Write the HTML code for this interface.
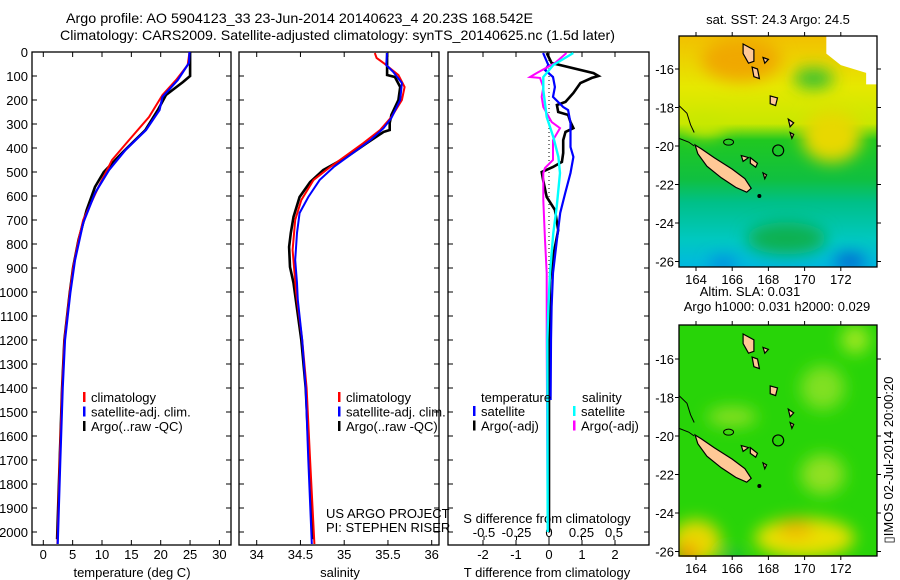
<!DOCTYPE html>
<html><head><meta charset="utf-8"><style>
html,body{margin:0;padding:0;background:#fff;}
svg{display:block;font-family:"Liberation Sans",sans-serif;}
</style></head><body>
<svg id="fig" width="900" height="580" viewBox="0 0 900 580" xmlns="http://www.w3.org/2000/svg">
<defs>
<filter id="blur8" x="-50%" y="-50%" width="200%" height="200%"><feGaussianBlur stdDeviation="8"/></filter>
<filter id="blur5" x="-50%" y="-50%" width="200%" height="200%"><feGaussianBlur stdDeviation="5"/></filter>
<clipPath id="clipMap1"><rect x="679" y="36" width="198" height="231"/></clipPath>
<clipPath id="clipMap2"><rect x="679" y="325" width="198" height="232"/></clipPath>
<linearGradient id="g1" x1="0" y1="0" x2="0" y2="1">
<stop offset="0" stop-color="#f2c000"/><stop offset="0.22" stop-color="#e6e800"/><stop offset="0.38" stop-color="#c8e800"/>
<stop offset="0.45" stop-color="#20c820"/><stop offset="0.62" stop-color="#10c040"/><stop offset="0.72" stop-color="#00c088"/>
<stop offset="0.88" stop-color="#00c8c0"/><stop offset="1" stop-color="#00b8e0"/></linearGradient>
</defs>
<g id="titles" font-size="14">
<text x="66" y="23" textLength="467" lengthAdjust="spacingAndGlyphs">Argo profile: AO 5904123_33 23-Jun-2014 20140623_4 20.23S 168.542E</text>
<text x="60" y="40" textLength="555" lengthAdjust="spacingAndGlyphs">Climatology: CARS2009. Satellite-adjusted climatology: synTS_20140625.nc (1.5d later)</text>
</g>
<g id="p1"></g><g id="p2"></g><g id="p3"></g>
<g id="map1"></g>
<g id="map2"></g>
<text transform="translate(893,460) rotate(-90)" font-size="13" text-anchor="middle">▯IMOS 02-Jul-2014 20:00:20</text>
</svg>
<script>
// ---------- data ----------
const tDepthRed=[0,54,117,179,271,367,450,562,700,783,896,1004,1200,1400,1700,2050];
const tRed=[24.9,24.6,22.6,20.3,18.0,14.6,11.7,9.4,6.8,6.0,5.1,4.5,3.6,3.2,2.8,2.4];
const tDepthBlue=[0,46,117,187,242,325,408,492,588,712,867,1004,1200,1400,1700,2050];
const tBlue=[24.9,24.8,22.9,20.3,19.8,17.5,14.0,11.2,8.8,6.8,5.4,4.6,3.7,3.3,2.9,2.45];
const tDepthArgo=[0,100,125,179,242,325,421,500,562,658,783,896,1004,1200,1400,1700,2030];
const tArgo=[25.0,25.0,23.8,20.9,19.5,17.4,13.4,10.3,8.8,7.4,6.0,5.1,4.5,3.6,3.2,2.8,2.35];
const sDepthRed=[4,25,46,96,146,200,271,325,379,429,479,533,617,700,825,1000,1200,1400,1700,2050];
const sRed=[35.35,35.37,35.45,35.62,35.69,35.66,35.54,35.41,35.22,35.03,34.84,34.65,34.51,34.44,34.41,34.45,34.52,34.57,34.61,34.66];
const sDepthBlue=[4,54,83,129,200,275,317,367,421,479,533,604,671,754,867,962,1033,1200,1400,1700,2050];
const sBlue=[35.49,35.48,35.56,35.66,35.64,35.54,35.45,35.30,35.10,34.88,34.72,34.59,34.49,34.46,34.44,34.46,34.47,34.52,34.56,34.59,34.63];
const sDepthArgo=[4,96,104,146,200,262,296,325,333,379,437,492,542,604,687,754,812,896,962,1200,1400,1700,2030];
const sArgo=[35.49,35.49,35.58,35.64,35.62,35.54,35.52,35.52,35.45,35.26,35.03,34.76,34.61,34.49,34.42,34.39,34.37,34.38,34.42,34.51,34.56,34.6,34.64];
const dtDepthArgo=[4,46,88,100,108,129,171,208,221,250,262,292,317,333,367,421,458,479,500,533,604,658,742,854,950,1200,2000];
const dtArgo=[-0.07,0.08,1.35,1.5,1.3,0.95,0.74,0.5,0.24,0.28,0.58,0.65,0.74,0.5,0.43,0.43,0.39,0.12,-0.22,-0.18,-0.07,0.18,0.28,0.12,0.03,0.0,0.0];
const dtDepthSat=[4,54,75,104,146,187,229,242,296,396,437,504,588,671,783,921,1062,1200,1450];
const dtSat=[-0.18,-0.02,-0.12,0.12,0.18,0.12,0.43,0.58,0.65,0.65,0.74,0.65,0.49,0.34,0.24,0.12,0.08,0.06,0.05];
const dsDepthArgo=[4,46,88,104,108,146,187,229,292,317,367,450,483,504,617,783,921,1062,1200,2000];
const dsArgo=[0.135,0.046,-0.095,-0.146,-0.069,-0.044,-0.056,-0.044,0.021,0.085,0.031,0.031,-0.031,-0.044,-0.044,-0.031,-0.018,-0.018,-0.018,-0.01];
const dsDepthSat=[4,54,104,158,271,354,437,504,646,754,921,1062,1200,2000];
const dsSat=[0.187,0.033,-0.044,-0.044,-0.018,0.033,0.072,0.085,0.059,0.033,0.008,-0.005,-0.013,-0.01];
const depthTicks=[0,100,200,300,400,500,600,700,800,900,1000,1100,1200,1300,1400,1500,1600,1700,1800,1900,2000];
const tTicks=[0,5,10,15,20,25,30];
const sTicks=[34,34.5,35,35.5,36];
const dtTicks=[-2,-1,0,1,2];
const dsTicks=[-0.5,-0.25,0,0.25,0.5];
const lonTicks=[164,166,168,170,172];
const latTicks=[-16,-18,-20,-22,-24,-26];

// ---------- helpers ----------
const NS='http://www.w3.org/2000/svg';
function mk(parent,tag,attrs,text){const e=document.createElementNS(NS,tag);for(const k in attrs)e.setAttribute(k,attrs[k]);if(text!==undefined)e.textContent=text;parent.appendChild(e);return e;}
const TOP=52,BOT=545;
const yD=d=>TOP+d*0.24;
function frame(g,x0,x1){
  const r=mk(g,'rect',{x:x0,y:TOP,width:x1-x0,height:BOT-TOP,fill:'none',stroke:'#000','stroke-width':1.3});
  
  depthTicks.forEach(d=>{mk(g,'line',{x1:x0,x2:x0+5,y1:yD(d),y2:yD(d),stroke:'#000'});mk(g,'line',{x1:x1-5,x2:x1,y1:yD(d),y2:yD(d),stroke:'#000'});});
}
function line(g,xs,ds,xf,color,w,name){
  const pts=xs.map((v,i)=>xf(v).toFixed(1)+','+yD(ds[i]).toFixed(1)).join(' ');
  const p=mk(g,'polyline',{points:pts,fill:'none',stroke:color,'stroke-width':w,'stroke-linejoin':'miter'});
  
  
}
function legend(g,x,y,items){
  items.forEach((it,i)=>{mk(g,'rect',{x:x,y:y+i*14.5-10,width:2.5,height:10,fill:it[0]});
    const t=mk(g,'text',{x:x+8,y:y+i*14.5,'font-size':13},it[1]);
    });
}
// ---------- panel 1 ----------
const g1=document.getElementById('p1');

const xT=v=>43.3+v*5.87;
frame(g1,32,231);
depthTicks.forEach(d=>{const t=mk(g1,'text',{x:28,y:yD(d)+5,'font-size':13,'text-anchor':'end'},String(d));});
tTicks.forEach(v=>{mk(g1,'line',{x1:xT(v),x2:xT(v),y1:TOP,y2:TOP+5,stroke:'#000'});mk(g1,'line',{x1:xT(v),x2:xT(v),y1:BOT-5,y2:BOT,stroke:'#000'});
  const t=mk(g1,'text',{x:xT(v),y:559,'font-size':13,'text-anchor':'middle'},String(v));});
{const t=mk(g1,'text',{x:132,y:577,'font-size':13,'text-anchor':'middle'},'temperature (deg C)');}
line(g1,tArgo,tDepthArgo,xT,'#000',2.6,'argo-temperature-line');
line(g1,tRed,tDepthRed,xT,'#f00',2,'climatology-temperature-line');
line(g1,tBlue,tDepthBlue,xT,'#00f',2.2,'satellite-temperature-line');
legend(g1,83,402,[['#f00','climatology'],['#00f','satellite-adj. clim.'],['#000','Argo(..raw -QC)']]);
// ---------- panel 2 ----------
const g2=document.getElementById('p2');

const xS=v=>256.7+(v-34)*87.5;
frame(g2,239,439);
sTicks.forEach(v=>{mk(g2,'line',{x1:xS(v),x2:xS(v),y1:TOP,y2:TOP+5,stroke:'#000'});mk(g2,'line',{x1:xS(v),x2:xS(v),y1:BOT-5,y2:BOT,stroke:'#000'});
  const t=mk(g2,'text',{x:xS(v),y:559,'font-size':13,'text-anchor':'middle'},String(v));});
{const t=mk(g2,'text',{x:340,y:577,'font-size':13,'text-anchor':'middle'},'salinity');}
line(g2,sArgo,sDepthArgo,xS,'#000',2.6,'argo-salinity-line');
line(g2,sRed,sDepthRed,xS,'#f00',2,'climatology-salinity-line');
line(g2,sBlue,sDepthBlue,xS,'#00f',2,'satellite-salinity-line');
legend(g2,338,402,[['#f00','climatology'],['#00f','satellite-adj. clim.'],['#000','Argo(..raw -QC)']]);
{const t=mk(g2,'text',{x:326,y:518,'font-size':13},'US ARGO PROJECT');
 const t2=mk(g2,'text',{x:326,y:532,'font-size':13},'PI: STEPHEN RISER');}
// ---------- panel 3 ----------
const g3=document.getElementById('p3');

const xDT=v=>549+v*33;
const xDS=v=>549+v*130;
frame(g3,448,649);
mk(g3,'line',{x1:549,x2:549,y1:TOP,y2:BOT,stroke:'#000','stroke-dasharray':'1,3'});
dtTicks.forEach(v=>{mk(g3,'line',{x1:xDT(v),x2:xDT(v),y1:TOP,y2:TOP+5,stroke:'#000'});mk(g3,'line',{x1:xDT(v),x2:xDT(v),y1:BOT-5,y2:BOT,stroke:'#000'});
  const t=mk(g3,'text',{x:xDT(v),y:559,'font-size':13,'text-anchor':'middle'},String(v));});
dsTicks.forEach(v=>{mk(g3,'line',{x1:xDS(v),x2:xDS(v),y1:BOT-9,y2:BOT-5,stroke:'#000'});
  const t=mk(g3,'text',{x:xDS(v),y:537,'font-size':13,'text-anchor':'middle'},String(v));});
{const t=mk(g3,'text',{x:547,y:577,'font-size':13,'text-anchor':'middle'},'T difference from climatology');
 const t2=mk(g3,'text',{x:547,y:523,'font-size':13,'text-anchor':'middle'},'S difference from climatology');}
line(g3,dtArgo,dtDepthArgo,xDT,'#000',2.6,'argo-t-diff-line');
line(g3,dtSat,dtDepthSat,xDT,'#00f',2.2,'satellite-t-diff-line');
line(g3,dsArgo,dsDepthArgo,xDS,'#f0f',2,'argo-s-diff-line');
line(g3,dsSat,dsDepthSat,xDS,'#0ff',2.4,'satellite-s-diff-line');
{const t=mk(g3,'text',{x:481,y:402,'font-size':13},'temperature');
 const t2=mk(g3,'text',{x:582,y:402,'font-size':13},'salinity');}
legend(g3,473,416,[['#00f','satellite'],['#000','Argo(-adj)']]);
legend(g3,573,416,[['#0ff','satellite'],['#f0f','Argo(-adj)']]);
// ---------- maps ----------
const islands=[
 [[163.95,-19.95],[164.3,-20.15],[165.0,-20.6],[166.0,-21.2],[166.7,-21.7],[167.05,-22.2],[166.8,-22.4],[166.2,-22.15],[165.4,-21.65],[164.6,-21.05],[164.1,-20.4]],
 [[166.6,-14.7],[167.2,-15.0],[167.2,-15.6],[166.9,-15.7],[166.6,-15.2]],
 [[167.1,-15.9],[167.4,-16.0],[167.5,-16.5],[167.2,-16.4]],
 [[167.7,-15.4],[168.0,-15.5],[167.8,-15.7]],
 [[168.1,-17.4],[168.5,-17.5],[168.4,-17.9],[168.1,-17.8]],
 [[169.1,-18.6],[169.4,-18.8],[169.2,-19.0]],
 [[169.2,-19.3],[169.4,-19.4],[169.3,-19.6]],
 [[167.0,-20.6],[167.4,-20.9],[167.3,-21.1],[167.0,-20.9]],
 [[167.7,-21.4],[167.9,-21.5],[167.8,-21.7]],
 [[166.5,-20.5],[166.9,-20.6],[166.6,-20.8]]
];
function drawMap(gid,top,yLat16,title1,title2,kind){
  const g=document.getElementById(gid);
  const X=lon=>696+(lon-164)*18.1, Y=lat=>yLat16+(-16-lat)*19.25;
  const L=679,R=877,B=top+231;
  const inner=mk(g,'g',{'clip-path':'url(#'+(kind==='sst'?'clipMap1':'clipMap2')+')'});
  if(kind==='sst'){
    mk(inner,'rect',{x:L,y:top,width:198,height:231,fill:'url(#g1)'});
    const b=mk(inner,'g',{filter:'url(#blur8)'});
    mk(b,'ellipse',{cx:X(166.5),cy:Y(-15.5),rx:40,ry:22,fill:'#f0a800'});
    mk(b,'ellipse',{cx:X(171.5),cy:Y(-19.5),rx:30,ry:26,fill:'#e8d800'});
    mk(b,'ellipse',{cx:X(164.5),cy:Y(-19),rx:20,ry:10,fill:'#c8e800'});
    mk(b,'ellipse',{cx:X(169),cy:Y(-24.8),rx:40,ry:16,fill:'#10b050'});
    mk(b,'ellipse',{cx:X(172.5),cy:Y(-26),rx:16,ry:8,fill:'#0060d0'});
    mk(b,'ellipse',{cx:X(165.5),cy:Y(-26.1),rx:14,ry:6,fill:'#0080e0'});
    mk(b,'ellipse',{cx:X(170.5),cy:Y(-16.5),rx:20,ry:10,fill:'#30c030'});
    mk(inner,'polygon',{points:[[X(171.2),top],[R,top],[R,Y(-16.8)],[X(173.4),Y(-16.8)],[X(173.4),Y(-16.2)],[X(172),Y(-15.8)],[X(171.2),Y(-15.2)]].map(p=>p.join(',')).join(' '),fill:'#fff'});
  } else {
    mk(inner,'rect',{x:L,y:top,width:198,height:231,fill:'#28d408'});
    const b=mk(inner,'g',{filter:'url(#blur8)'});
    mk(b,'ellipse',{cx:X(171),cy:Y(-17.5),rx:22,ry:22,fill:'#80e020'});
    mk(b,'ellipse',{cx:X(172.8),cy:Y(-15),rx:14,ry:14,fill:'#a0e820'});
    mk(b,'ellipse',{cx:X(166),cy:Y(-19),rx:25,ry:10,fill:'#88e020'});
    mk(b,'ellipse',{cx:X(171),cy:Y(-22),rx:22,ry:20,fill:'#90e020'});
    mk(b,'ellipse',{cx:X(170),cy:Y(-25.3),rx:50,ry:20,fill:'#e8e000'});
    mk(b,'ellipse',{cx:X(169.5),cy:Y(-24.8),rx:18,ry:10,fill:'#f0b800'});
    mk(b,'ellipse',{cx:X(164),cy:Y(-25.5),rx:25,ry:22,fill:'#e8d800'});
    mk(b,'ellipse',{cx:X(163.5),cy:Y(-26.2),rx:10,ry:12,fill:'#f09000'});
    mk(b,'ellipse',{cx:X(166),cy:Y(-26.3),rx:10,ry:6,fill:'#10b060'});
  }
  islands.forEach((isl,i)=>{
    const p=mk(inner,'polygon',{points:isl.map(q=>X(q[0]).toFixed(1)+','+Y(q[1]).toFixed(1)).join(' '),fill:'#ffc896',stroke:'#000','stroke-width':1.2});
    
  });
  mk(inner,'ellipse',{cx:X(165.8),cy:Y(-19.8),rx:5,ry:3,fill:'none',stroke:'#000'});
  mk(inner,'polyline',{points:[[L,Y(-17.9)],[X(163.5),Y(-18.3)],[X(163.7),Y(-18.9)],[X(163.9),Y(-19.3)]].map(p=>p.join(',')).join(' '),fill:'none',stroke:'#000'});
  mk(inner,'polyline',{points:[[L,Y(-19.6)],[X(163.6),Y(-19.8)],[X(163.9),Y(-20)]].map(p=>p.join(',')).join(' '),fill:'none',stroke:'#000'});
  mk(inner,'circle',{cx:X(167.5),cy:Y(-22.6),r:2,fill:'#000'});
  const c=mk(inner,'circle',{cx:X(168.54),cy:Y(-20.23),r:5.5,fill:'none',stroke:'#000','stroke-width':1.2});
  
  mk(g,'rect',{x:L,y:top,width:198,height:231,fill:'none',stroke:'#000','stroke-width':1.3});
  lonTicks.forEach(v=>{mk(g,'line',{x1:X(v),x2:X(v),y1:top-4,y2:top,stroke:'#000'});mk(g,'line',{x1:X(v),x2:X(v),y1:B,y2:B+4,stroke:'#000'});
    const t=mk(g,'text',{x:X(v),y:B+17,'font-size':13,'text-anchor':'middle'},String(v));});
  latTicks.forEach(v=>{mk(g,'line',{x1:L-4,x2:L,y1:Y(v),y2:Y(v),stroke:'#000'});mk(g,'line',{x1:R,x2:R+4,y1:Y(v),y2:Y(v),stroke:'#000'});
    const t=mk(g,'text',{x:L-5,y:Y(v)+5,'font-size':13,'text-anchor':'end'},String(v));});
  if(title2){
    const t=mk(g,'text',{x:750,y:top-29,'font-size':13,'text-anchor':'middle'},title1);
    const t2=mk(g,'text',{x:777,y:top-14,'font-size':13,'text-anchor':'middle'},title2);
  } else {
    const t=mk(g,'text',{x:778,y:top-12,'font-size':13,'text-anchor':'middle'},title1);
  }
}
drawMap('map1',36,69,'sat. SST: 24.3 Argo: 24.5',null,'sst');
drawMap('map2',325,359,'Altim. SLA: 0.031','Argo h1000: 0.031 h2000: 0.029','sla');
</script>
</body></html>
